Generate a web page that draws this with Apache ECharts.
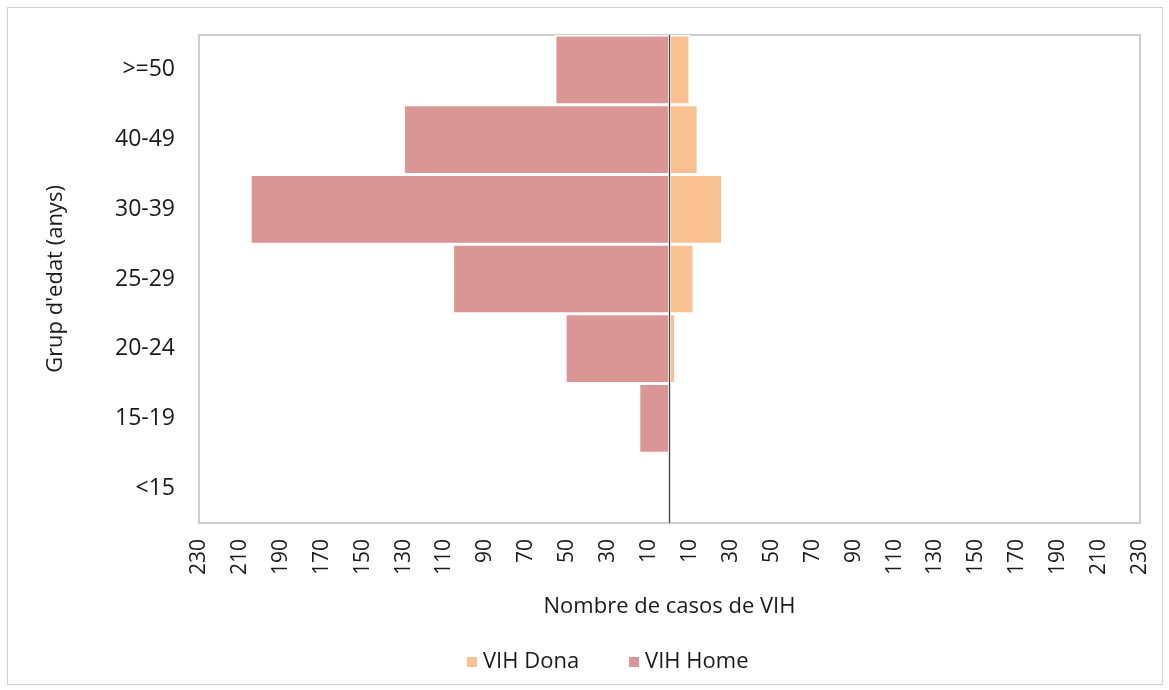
<!DOCTYPE html>
<html>
<head>
<meta charset="utf-8">
<script src="https://cdn.jsdelivr.net/npm/echarts@6/dist/echarts.min.js"></script>
<style>
  html, body { margin: 0; padding: 0; background: #fff; }
  #chart { width: 1169px; height: 690px; }
  .frame {
    position: absolute;
    left: 7px; top: 7px; width: 1154px; height: 676px;
    border: 1px solid #d0d0d0;
    pointer-events: none;
  }
</style>
</head>
<body>
<div id="chart"></div>
<div class="frame"></div>
<script>
// age groups, bottom to top
const ageGroups = ['<15', '15-19', '20-24', '25-29', '30-39', '40-49', '>=50'];
// cases per group
const homeCases = [0, 15, 51, 106, 205, 130, 56];
const donaCases = [0, 1.5, 3, 12, 26, 14, 10];

var chartDom = document.getElementById('chart');
var myChart = echarts.init(chartDom);
var font = '"Open Sans", "Noto Sans", sans-serif';

var option = {
  animation: false,
  textStyle: { fontFamily: font },
  grid: {
    left: 199, right: 29, top: 35, bottom: 167,
    show: true,
    borderColor: '#bfbfbf',
    borderWidth: 1.5
  },
  legend: {
    data: ['VIH Dona', 'VIH Home'],
    top: 646,
    left: 460,
    itemWidth: 12,
    itemHeight: 12,
    itemGap: 48,
    icon: 'rect',
    textStyle: { fontSize: 22, color: '#1a1a1a', fontFamily: font }
  },
  xAxis: {
    type: 'value',
    min: -230,
    max: 230,
    interval: 20,
    name: 'Nombre de casos de VIH',
    nameLocation: 'middle',
    nameGap: 73,
    nameTextStyle: { fontSize: 22, color: '#1a1a1a' },
    axisLine: { show: false },
    axisTick: { show: false },
    splitLine: { show: false },
    axisLabel: {
      rotate: 90,
      fontSize: 21,
      color: '#1a1a1a',
      margin: 16,
      formatter: function (v) { return Math.abs(v); }
    }
  },
  yAxis: {
    type: 'category',
    data: ageGroups,
    name: "Grup d'edat (anys)",
    nameLocation: 'middle',
    nameGap: 132,
    nameTextStyle: { fontSize: 22, color: '#1a1a1a' },
    axisLine: { show: false },
    axisTick: { show: false },
    axisLabel: { fontSize: 23, color: '#1a1a1a', margin: 24 }
  },
  series: [
    {
      name: 'VIH Home',
      type: 'bar',
      stack: 'pyr',
      barCategoryGap: 0,
      data: homeCases.map(function (v) { return -v; }),
      itemStyle: { color: '#d99694', borderColor: '#fff', borderWidth: 1.5 },
      markLine: {
        silent: true,
        symbol: 'none',
        label: { show: false },
        lineStyle: { color: '#404040', width: 1.3, type: 'solid' },
        data: [{ xAxis: 0 }]
      }
    },
    {
      name: 'VIH Dona',
      type: 'bar',
      stack: 'pyr',
      barCategoryGap: 0,
      data: donaCases,
      itemStyle: { color: '#fac090', borderColor: '#fff', borderWidth: 1.5 }
    }
  ]
};

myChart.setOption(option);
</script>
</body>
</html>
